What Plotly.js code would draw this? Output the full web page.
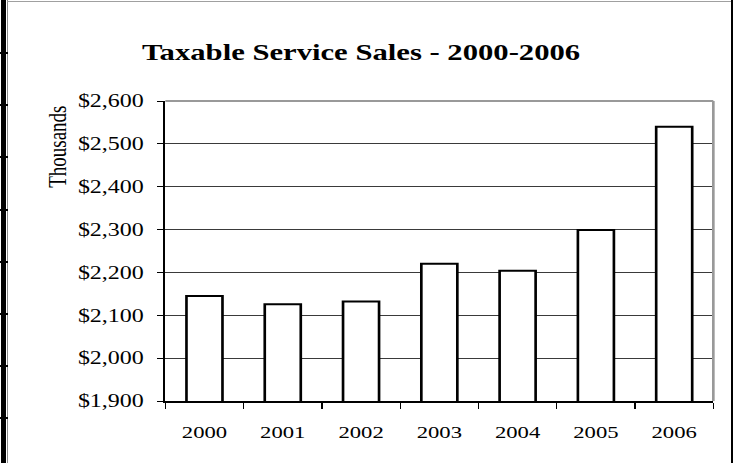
<!DOCTYPE html>
<html>
<head>
<meta charset="utf-8">
<script src="https://cdn.plot.ly/plotly-3.0.1.min.js"></script>
<style>
html, body { margin: 0; padding: 0; background: #fff; overflow: hidden; }
#wrap { position: relative; width: 736px; height: 463px; overflow: hidden; background: #fff; }
#chart { position: absolute; left: 0; top: 0; width: 552px; height: 463px; transform: scale(1.33333, 1); transform-origin: 0 0; }
.frame { position: absolute; }
</style>
</head>
<body>
<div id="wrap">
  <div id="chart"></div>
  <div class="frame" style="left:1px;top:0;width:5px;height:463px;background:#000"></div>
  <div class="frame" style="left:7px;top:0;width:1px;height:463px;background:#8c8c8c"></div>
  <div class="frame" style="left:7px;top:1px;width:725px;height:1px;background:#a0a0a0"></div>
  <div class="frame" style="left:731px;top:0;width:1.5px;height:463px;background:#000"></div>
</div>
<script>
// ---- data ----
const years = ['2000', '2001', '2002', '2003', '2004', '2005', '2006'];
const sales = [2145, 2126, 2132, 2220, 2204, 2299, 2540]; // $ thousands
const chartTitle = 'Taxable Service Sales - 2000-2006';
const yUnitLabel = 'Thousands';

// decorative ruler ticks on the left page border
const wrap = document.getElementById('wrap');
for (let k = 0; k < 8; k++) {
  const d = document.createElement('div');
  d.className = 'frame';
  d.style.cssText = 'left:0;width:8px;height:2px;background:#000;top:' + (52 + k * 52.2).toFixed(1) + 'px';
  wrap.appendChild(d);
}

const serif = 'Liberation Serif, Times New Roman, Times, serif';

const trace = {
  type: 'bar',
  x: years,
  y: sales,
  marker: { color: '#ffffff', line: { color: '#000000', width: 2 } },
  hoverinfo: 'x+y'
};

const layout = {
  width: 552,
  height: 463,
  margin: { l: 124, r: 17, t: 101, b: 62, pad: 0 },
  paper_bgcolor: '#ffffff',
  plot_bgcolor: '#ffffff',
  font: { family: serif, color: '#000000' },
  showlegend: false,
  bargap: 0.54,
  title: {
    text: chartTitle,
    font: { family: serif, size: 23, weight: 700, color: '#000000' },
    xref: 'container', x: 0.4906, xanchor: 'center',
    yref: 'container', y: 1 - 52 / 463, yanchor: 'middle'
  },
  xaxis: {
    type: 'category',
    showline: true, linecolor: '#000000', linewidth: 1.5,
    ticks: 'outside', tickson: 'boundaries', ticklen: 6, tickwidth: 1, tickcolor: '#000000',
    showgrid: false, zeroline: false,
    tickfont: { family: serif, size: 17, color: '#000000' },
    ticklabelstandoff: 15,
    fixedrange: true
  },
  yaxis: {
    range: [1900, 2600],
    tick0: 1900, dtick: 100,
    tickprefix: '$', tickformat: ',d',
    showline: true, linecolor: '#000000', linewidth: 1.5,
    ticks: 'outside', ticklen: 5, tickwidth: 1, tickcolor: '#000000',
    showgrid: true, gridcolor: '#3a3a3a', gridwidth: 1,
    zeroline: false,
    tickfont: { family: serif, size: 18, color: '#000000' },
    ticklabelstandoff: 6,
    fixedrange: true
  },
  shapes: [
    { type: 'line', xref: 'paper', yref: 'paper', x0: 0, x1: 1, y0: 1, y1: 1, line: { color: '#999999', width: 2 } },
    { type: 'line', xref: 'paper', yref: 'paper', x0: 1, x1: 1, y0: 0, y1: 1, line: { color: '#999999', width: 2 } }
  ],
  annotations: [
    {
      text: yUnitLabel, textangle: -90,
      xref: 'paper', yref: 'paper', x: -0.198, y: 0.846,
      xanchor: 'center', yanchor: 'middle', showarrow: false,
      font: { family: serif, size: 19, color: '#000000' }
    }
  ]
};

Plotly.newPlot('chart', [trace], layout, { displayModeBar: false, staticPlot: true });
</script>
</body>
</html>
